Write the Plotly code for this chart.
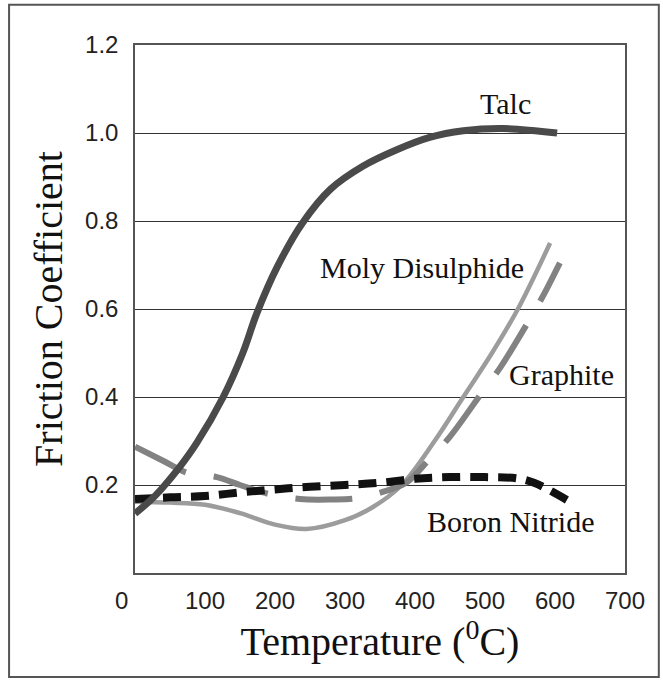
import plotly.graph_objects as go

# ---- data ----
talc_x = [0, 24, 40, 62, 88, 126, 154, 174, 203, 239, 279, 326, 374, 421, 469, 526, 603]
talc_y = [0.135, 0.168, 0.195, 0.237, 0.295, 0.40, 0.50, 0.59, 0.695, 0.795, 0.872, 0.925, 0.962, 0.99, 1.005, 1.01, 1.0]

moly_x = [0, 50, 100, 150, 200, 245, 300, 340, 381, 428, 469, 510, 547, 593]
moly_y = [0.162, 0.16, 0.155, 0.136, 0.11, 0.10, 0.12, 0.15, 0.20, 0.30, 0.40, 0.50, 0.60, 0.75]

graphite_x = [0, 40, 76, 117, 150, 190, 236, 280, 317, 355, 389, 421, 450, 500, 521, 567, 583, 607]
graphite_y = [0.287, 0.255, 0.227, 0.218, 0.20, 0.18, 0.168, 0.167, 0.17, 0.185, 0.207, 0.26, 0.31, 0.42, 0.465, 0.585, 0.63, 0.705]

bn_x = [0, 50, 100, 150, 200, 250, 300, 350, 400, 450, 500, 546, 570, 590, 617]
bn_y = [0.168, 0.172, 0.175, 0.183, 0.19, 0.196, 0.20, 0.205, 0.214, 0.218, 0.218, 0.215, 0.205, 0.19, 0.166]

x_tickvals = [0, 100, 200, 300, 400, 500, 600, 700]
x_ticktext = ["0\u2007\u2007", "100", "200", "300", "400", "500", "600", "700"]
y_tickvals = [0.2, 0.4, 0.6, 0.8, 1.0, 1.2]
y_ticktext = ["0.2", "0.4", "0.6", "0.8", "1.0", "1.2"]

labels = ["Talc", "Moly Disulphide", "Graphite", "Boron Nitride"]
label_x = [529, 410, 609, 536]
label_y = [1.066, 0.695, 0.452, 0.116]

SERIF = "Liberation Serif, Times New Roman, serif"
SANS = "Liberation Sans, Arial, sans-serif"

fig = go.Figure()
fig.add_trace(go.Scatter(x=moly_x, y=moly_y, mode="lines", name="Moly Disulphide",
                         line=dict(color="#9c9c9c", width=4.5, shape="spline", smoothing=1.0)))
fig.add_trace(go.Scatter(x=graphite_x, y=graphite_y, mode="lines", name="Graphite",
                         line=dict(color="#828282", width=6, dash="57px,28px", shape="spline", smoothing=1.0)))
fig.add_trace(go.Scatter(x=bn_x, y=bn_y, mode="lines", name="Boron Nitride",
                         line=dict(color="#111111", width=8, dash="18px,10px", shape="spline", smoothing=1.0)))
fig.add_trace(go.Scatter(x=talc_x, y=talc_y, mode="lines", name="Talc",
                         line=dict(color="#4a4a4a", width=7, shape="spline", smoothing=1.0)))

for t, lx, ly in zip(labels, label_x, label_y):
    fig.add_annotation(x=lx, y=ly, text=t, showarrow=False, xanchor="center", yanchor="middle",
                       font=dict(family=SERIF, size=30, color="#111111"))

fig.add_shape(type="rect", xref="paper", yref="paper",
              x0=-0.257, x1=1.069, y0=-0.197, y1=1.076,
              line=dict(color="#555555", width=2), fillcolor="rgba(0,0,0,0)", layer="below")

fig.update_layout(
    width=663, height=680,
    margin=dict(l=135, r=38, t=45, b=107, pad=0),
    paper_bgcolor="white", plot_bgcolor="white",
    showlegend=False,
    xaxis=dict(range=[0, 700], tickmode="array", tickvals=x_tickvals, ticktext=x_ticktext,
               showgrid=False, zeroline=False, showline=True, linecolor="#555555", linewidth=1.5,
               mirror=True, ticks="", ticklabelstandoff=5,
               tickfont=dict(family=SANS, size=24, color="#222222"),
               title=dict(text="Temperature (<sup>0</sup>C)", standoff=9,
                          font=dict(family=SERIF, size=40, color="#111111"))),
    yaxis=dict(range=[0, 1.2], tickmode="array", tickvals=y_tickvals, ticktext=y_ticktext,
               showgrid=True, gridcolor="#333333", gridwidth=1, zeroline=False,
               showline=True, linecolor="#555555", linewidth=1.5, mirror=True, ticks="",
               ticklabelstandoff=10,
               tickfont=dict(family=SANS, size=24, color="#222222"),
               title=dict(text="Friction Coefficient", standoff=10,
                          font=dict(family=SERIF, size=40, color="#111111"))),
)

fig.write_html("out.html", config={"displayModeBar": False},
               post_script="document.body.style.margin='0';document.body.style.overflow='hidden';")
